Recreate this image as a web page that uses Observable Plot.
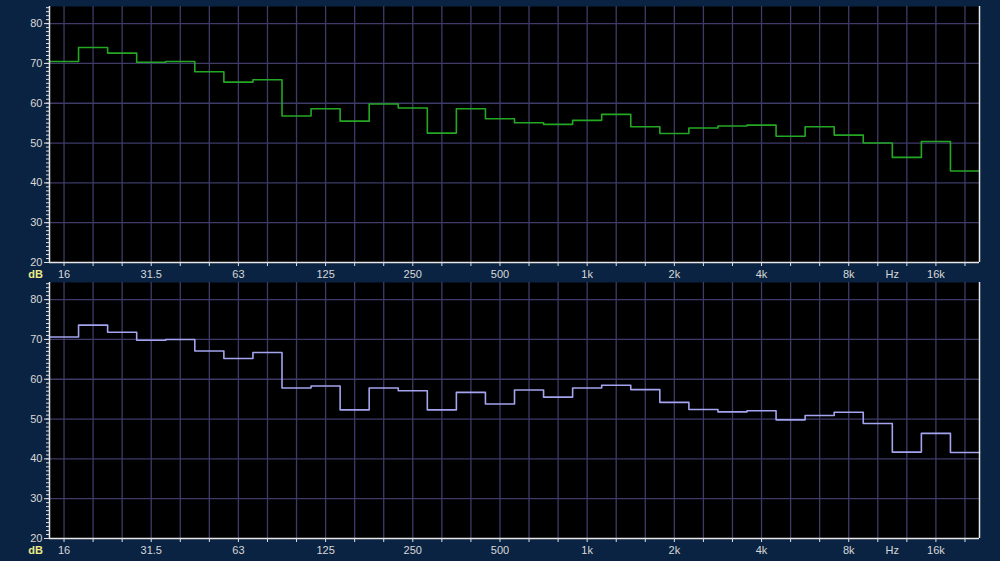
<!DOCTYPE html>
<html>
<head>
<meta charset="utf-8">
<script src="https://cdn.jsdelivr.net/npm/d3@7"></script>
<script src="https://cdn.jsdelivr.net/npm/@observablehq/plot@0.6"></script>
<style>
  html, body { margin: 0; padding: 0; background: #0b2343; }
  body { width: 1000px; height: 561px; overflow: hidden; }
  svg { display: block; }
</style>
</head>
<body>
<div id="top"></div>
<div id="bottom"></div>
<script>
// 1/3-octave band nominal centres (Hz)
const bands = [16,20,25,31.5,40,50,63,80,100,125,160,200,250,315,400,500,630,800,1000,1250,1600,2000,2500,3150,4000,5000,6300,8000,10000,12500,16000,20000];
const bandLabels = ["16","","","31.5","","","63","","","125","","","250","","","500","","","1k","","","2k","","","4k","","","8k","","","16k",""];
// band levels (dB)
const levelsTop = [70.5,74.0,72.6,70.3,70.5,67.9,65.3,65.9,56.8,58.6,55.5,59.8,58.8,52.5,58.6,56.1,55.1,54.7,55.7,57.2,54.1,52.4,53.8,54.3,54.5,51.7,54.1,52.0,50.0,46.4,50.4,43.0];
const levelsBottom = [70.6,73.6,71.8,69.8,70.0,67.1,65.2,66.7,57.8,58.3,52.3,57.8,57.1,52.3,56.7,53.8,57.3,55.5,57.8,58.5,57.4,54.2,52.4,51.8,52.1,49.8,50.9,51.7,48.9,41.7,46.4,41.6];
const yMajorTicks = [20,30,40,50,60,70,80];
const yMinorTicks = d3.range(20, 85, 1);

// exact base-2 band centres (index 18 = 1 kHz)
const fc = bands.map((b, i) => 1000 * Math.pow(2, (i - 18) / 3));
const third = Math.pow(2, 1 / 6);
const xDomain = [fc[0] / third, fc[fc.length - 1] * third];
const yDomain = [20, 84.3];
const xLabels = fc.map((f, i) => ({f, label: bandLabels[i]})).filter((d) => d.label !== "");
const hzPos = Math.sqrt(fc[27] * fc[30]);

function panel(levels, color, height, marginTop, marginBottom) {
  const steps = levels.flatMap((v, i) => [{f: fc[i] / third, v}, {f: fc[i] * third, v}]);
  return Plot.plot({
    width: 1000,
    height,
    marginLeft: 49,
    marginRight: 21,
    marginTop,
    marginBottom,
    style: {background: "transparent", fontFamily: "Liberation Sans, Arial, sans-serif", fontSize: "11px", color: "#d8d8d8"},
    x: {type: "log", domain: xDomain},
    y: {domain: yDomain},
    marks: [
      Plot.frame({fill: "black", stroke: null}),
      Plot.ruleX(fc, {stroke: "#3e3b68", strokeWidth: 1.3}),
      Plot.ruleY(yMajorTicks.slice(1), {stroke: "#3e3b68", strokeWidth: 1.3}),
      Plot.line(steps, {x: "f", y: "v", stroke: color, strokeWidth: 1.6}),
      Plot.ruleY([yDomain[0]], {stroke: "#e8e8e8", strokeWidth: 1.5}),
      Plot.ruleX([xDomain[0]], {stroke: "#e8e8e8", strokeWidth: 1.5}),
      Plot.ruleX([xDomain[1]], {stroke: "#e8e8e8", strokeWidth: 1.5}),
      Plot.axisY({ticks: yMinorTicks, tickSize: 3, tickFormat: () => "", stroke: "#e0e0e0", label: null}),
      Plot.axisY({ticks: yMajorTicks, tickSize: 5, tickPadding: 2, stroke: "#e0e0e0", fill: "#d8d8d8", label: null}),
      Plot.axisX({ticks: fc, tickSize: 4, tickFormat: () => "", stroke: "#e0e0e0", label: null}),
      Plot.text(xLabels, {x: "f", y: () => yDomain[0], text: "label", dy: 12, fill: "#d8d8d8", fontSize: 11}),
      Plot.text(["Hz"], {x: hzPos, y: yDomain[0], dy: 12, fill: "#d8d8d8", fontSize: 11}),
      Plot.text(["dB"], {x: xDomain[0], y: yDomain[0], dx: -14, dy: 12, fill: "#ecec88", fontSize: 11, fontWeight: "bold"})
    ]
  });
}

document.getElementById("top").append(panel(levelsTop, "#24a824", 281, 6, 19));
document.getElementById("bottom").append(panel(levelsBottom, "#a4a4f0", 280, 1, 23));
</script>
</body>
</html>
